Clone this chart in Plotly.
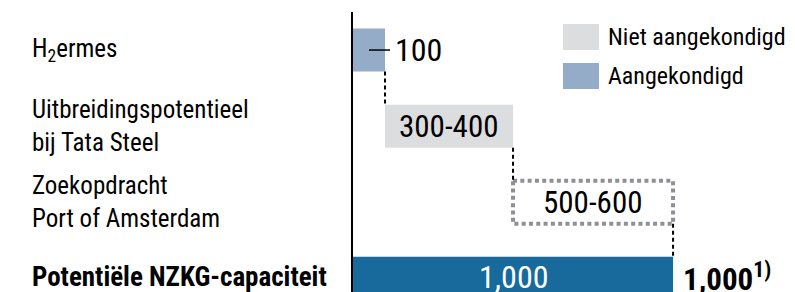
import plotly.graph_objects as go

# ---- data ----
categories = ["H<sub>2</sub>ermes",
              "Uitbreidingspotentieel<br>bij Tata Steel",
              "Zoekopdracht<br>Port of Amsterdam",
              "<b>Potentiële NZKG-capaciteit</b>"]
bases = [0, 100, 500, 0]
values = [100, 400, 500, 1000]
value_labels = ["100", "300-400", "500-600", "1,000"]
total_label = "<b>1,000<sup>1)</sup></b>"
legend_names = ["Niet aangekondigd", "Aangekondigd"]

FONT = "Roboto Condensed, Liberation Sans, sans-serif"
C_ANN = "#95acc9"
C_NOT = "#dcdddf"
C_TOT = "#176a9b"
C_DOT = "#8e9095"
BW = 0.565

# page body has an 8px margin; figure drawn to fill the rest of the 795x292 window
OFF = 8
W, H = 795 - OFF, 292 - OFF
ML, MT = 353 - OFF, 12 - OFF
PW, PH = W - ML, H - MT
XMAX = 1381

def px_x(px):  # reference pixel -> paper x
    return (px - 353) / PW

def px_y(py):  # reference pixel -> paper y
    return (292 - py) / PH

fig = go.Figure()
ys = list(range(len(categories)))

fig.add_trace(go.Bar(y=[ys[0]], x=[values[0]], base=[bases[0]], orientation="h",
                     width=BW, marker=dict(color=C_ANN, line=dict(width=0)),
                     name=legend_names[1], showlegend=False, hoverinfo="skip"))
fig.add_trace(go.Bar(y=[ys[1]], x=[values[1]], base=[bases[1]], orientation="h",
                     width=BW, marker=dict(color=C_NOT, line=dict(width=0)),
                     name=legend_names[0], showlegend=False, hoverinfo="skip"))
fig.add_trace(go.Bar(y=[ys[3]], x=[values[3]], base=[bases[3]], orientation="h",
                     width=BW, marker=dict(color=C_TOT, line=dict(width=0)),
                     showlegend=False, hoverinfo="skip"))

# dotted box for Port of Amsterdam
b, v = bases[2], values[2]
fig.add_shape(type="rect", xref="x", yref="y", x0=b, x1=b + v,
              y0=ys[2] - BW / 2, y1=ys[2] + BW / 2,
              line=dict(color=C_DOT, width=4, dash="4px,3.3px"), fillcolor="rgba(0,0,0,0)")

# connectors
for i in range(len(categories) - 1):
    xe = bases[i] + values[i]
    fig.add_shape(type="line", xref="x", yref="y", x0=xe, x1=xe,
                  y0=ys[i] + BW / 2, y1=ys[i + 1] - BW / 2,
                  line=dict(color="black", width=2, dash="4px,3px"))

# leader line for H2ermes
fig.add_shape(type="line", xref="x", yref="y", xsizemode="pixel", xanchor=values[0] / 2,
              x0=0, x1=21, y0=ys[0], y1=ys[0], line=dict(color="black", width=1.5))

# value labels
fig.add_annotation(x=bases[0] + values[0], y=ys[0], text=value_labels[0], xanchor="left",
                   xshift=8, showarrow=False, font=dict(family=FONT, size=32, color="black"))
fig.add_annotation(x=bases[1] + values[1] / 2, y=ys[1], text=value_labels[1],
                   showarrow=False, font=dict(family=FONT, size=31, color="black"))
fig.add_annotation(x=bases[2] + values[2] / 2, y=ys[2], text=value_labels[2],
                   showarrow=False, font=dict(family=FONT, size=31, color="black"))
fig.add_annotation(x=bases[3] + values[3] / 2, y=ys[3], text=value_labels[3],
                   showarrow=False, yshift=1, font=dict(family=FONT, size=32, color="white"))
fig.add_annotation(x=bases[3] + values[3], y=ys[3], text=total_label, xanchor="left",
                   xshift=8, yshift=1, showarrow=False, font=dict(family=FONT, size=31, color="black"))

# category labels (left aligned)
for i, c in enumerate(categories):
    fig.add_annotation(xref="paper", yref="y", x=px_x(30), y=ys[i], text=c, xanchor="left",
                       align="left", showarrow=False, yshift=1 if i == 3 else 0,
                       font=dict(family=FONT, size=27 if i == 3 else 25, color="black"))

# legend
for k, (name, col) in enumerate(zip(legend_names, [C_NOT, C_ANN])):
    y0, y1 = 24 + k * 39, 50 + k * 39
    fig.add_shape(type="rect", xref="paper", yref="paper", x0=px_x(563), x1=px_x(599),
                  y0=px_y(y1), y1=px_y(y0), fillcolor=col, line=dict(width=0))
    fig.add_annotation(xref="paper", yref="paper", x=px_x(606), y=px_y((y0 + y1) / 2),
                       text=name, xanchor="left", yanchor="middle", showarrow=False,
                       font=dict(family=FONT, size=24, color="black"))

fig.update_layout(
    width=W, height=H, margin=dict(l=ML, r=0, t=MT, b=0, pad=0),
    plot_bgcolor="white", paper_bgcolor="white", barmode="overlay",
    xaxis=dict(range=[0, XMAX], visible=False, fixedrange=True),
    yaxis=dict(range=[3.18, -0.5], showticklabels=False, showgrid=False, zeroline=False,
               showline=True, linecolor="black", linewidth=2, ticks=""),
    showlegend=False,
)
fig.write_html("out.html")
